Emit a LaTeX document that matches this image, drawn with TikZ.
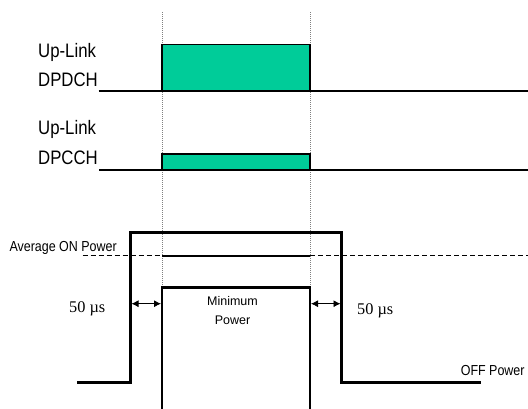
\documentclass[tikz,border=0pt]{standalone}
\usepackage{fontspec}
\setmainfont{Liberation Serif}
\newfontfamily\nar[FakeStretch=0.86]{Liberation Sans}
\newfontfamily\arialf{Liberation Sans}
\usetikzlibrary{arrows.meta}
\definecolor{chgreen}{RGB}{0,204,153}
\tikzset{
  lbl/.style={inner sep=0pt, anchor=base west, font=\nar\fontsize{19.5}{20}\selectfont},
  plbl/.style={inner sep=0pt, anchor=base west, font=\nar\fontsize{14.5}{15}\selectfont},
  mlbl/.style={inner sep=0pt, anchor=base, font=\arialf\fontsize{12.5}{13}\selectfont},
  tlbl/.style={inner sep=0pt, anchor=base west, font=\fontsize{16.3}{17}\selectfont},
  sig/.style={line width=2pt, black},
  pwr/.style={line width=2.8pt, black, line join=miter},
  chbox/.style={fill=chgreen, draw=black, line width=1.2pt},
  guide/.style={gray, line width=0.8pt, dash pattern=on 1pt off 1pt},
  avg/.style={black, line width=0.8pt, dash pattern=on 5pt off 3pt},
  dim/.style={{Latex[length=7pt,width=7pt]}-{Latex[length=7pt,width=7pt]}, line width=0.8pt}
}
\begin{document}
\begin{tikzpicture}[x=1pt,y=-1pt]
\useasboundingbox (0,0) rectangle (528,408);
% key coordinates
\coordinate (gLt) at (162,12);
\coordinate (gLb) at (162,287.5);
\coordinate (gRt) at (310,12);
\coordinate (gRb) at (310,287.5);
% guides
\draw[guide] (gLt) -- (gLb);
\draw[guide] (gRt) -- (gRb);
% DPDCH
\draw[chbox] (162,44.5) rectangle (310,90.5);
\coordinate (d1s) at (98.7,90.5);
\coordinate (d1e) at (528,90.5);
\draw[sig] (d1s) -- (d1e);
\node[lbl] (ul1) at (38,57.3) {Up-Link};
\node[lbl] (dpdch) at (38,86) {DPDCH};
% DPCCH
\draw[chbox] (162,154) rectangle (310,169.5);
\coordinate (d2s) at (99,169.5);
\coordinate (d2e) at (528,169.5);
\draw[sig] (d2s) -- (d2e);
\node[lbl] (ul2) at (38,134.3) {Up-Link};
\node[lbl] (dpcch) at (38,164) {DPCCH};
% average ON power dashed
\coordinate (a0) at (82.5,255.5);
\coordinate (a1) at (162,255.5);
\coordinate (a2) at (310,255.5);
\coordinate (a3) at (528,255.5);
\draw[avg] (a0) -- (a1);
\draw[avg] (a2) -- (a3);
\draw[line width=2pt] (a1) -- (a2);
\node[plbl] (avgl) at (9.3,251) {Average ON Power};
% outer power pulse
\draw[pwr] (77,382.5) -- (130.5,382.5) -- (130.5,232.5) -- (341.5,232.5) -- (341.5,382.5) -- (481,382.5);
% inner minimum power
\draw[pwr] (162,410) -- (162,287.5) -- (310,287.5) -- (310,410);
\node[plbl] (offl) at (460.6,375) {OFF Power};
\node[mlbl] (minl) at (232.5,305.4) {Minimum};
\node[mlbl] (powl) at (232.5,324) {Power};
% 50 us arrows
\coordinate (l1) at (131.5,303.7);
\coordinate (l2) at (161,303.7);
\coordinate (r1) at (311,303.7);
\coordinate (r2) at (340.5,303.7);
\draw[dim] (l1) -- (l2);
\draw[dim] (r1) -- (r2);
\node[tlbl] (t1) at (69,312) {50 µs};
\node[tlbl] (t2) at (357,314) {50 µs};
\end{tikzpicture}
\end{document}
